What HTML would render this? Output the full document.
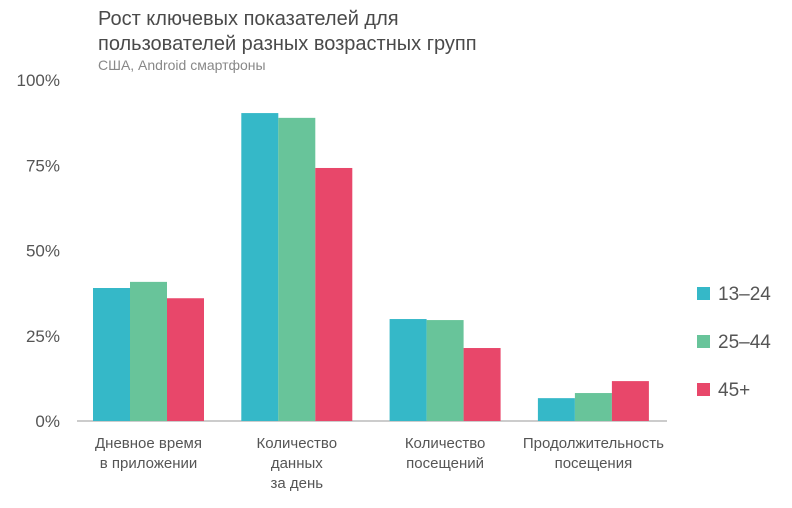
<!DOCTYPE html>
<html><head><meta charset="utf-8"><style>
body{margin:0;background:#fff;width:792px;height:503px;overflow:hidden;font-family:"Liberation Sans",sans-serif}
</style></head><body>
<svg width="792" height="503" id="c">
<text x="98" y="25" font-size="20" fill="#4a4a4a">Рост ключевых показателей для</text>
<text x="98" y="50" font-size="20" fill="#4a4a4a">пользователей разных возрастных групп</text>
<text x="98" y="70" font-size="14" fill="#888">США, Android смартфоны</text>
<g id="axes"></g><g id="bars"></g><g id="legend"></g>
</svg>
<script>
const categories=[["Дневное время","в приложении"],["Количество","данных","за день"],["Количество","посещений"],["Продолжительность","посещения"]];
const seriesNames=["13–24","25–44","45+"];
const s1=[39,40.8,36];
const s2=[90.3,88.9,74.2];
const s3=[29.9,29.6,21.4];
const s4=[6.7,8.2,11.7];
const yTicks=[0,25,50,75,100];
const tickLabels=["0%","25%","50%","75%","100%"];
const colors=["#35b8c8","#68c49a","#e8476a"];
const groups=[s1,s2,s3,s4];
const NS="http://www.w3.org/2000/svg";
const y0=421,y1=80,x0=77,x1=667;
const y=v=>y0-(v/100)*(y0-y1);
const gx=i=>93+i*148.3;
const bw=37;
function mk(t,a,p){const e=document.createElementNS(NS,t);for(const k in a)e.setAttribute(k,a[k]);p.appendChild(e);return e;}
const ax=document.getElementById('axes'),bg=document.getElementById('bars'),lg=document.getElementById('legend');
yTicks.forEach((v,i)=>{const t=mk('text',{x:60,y:y(v)+6,'font-size':17,fill:'#555','text-anchor':'end'},ax);t.textContent=tickLabels[i];

});
const al=mk('line',{x1:x0,x2:x1,y1:y0,y2:y0,stroke:'#bbb','stroke-width':1.5},ax);


groups.forEach((g,i)=>{g.forEach((v,j)=>{const r=mk('rect',{x:gx(i)+j*bw,y:y(v),width:bw,height:y0-y(v),fill:colors[j]},bg);

});
const cx=gx(i)+bw*1.5;categories[i].forEach((l,k)=>{const t=mk('text',{x:cx,y:448+k*20,'font-size':15,fill:'#555','text-anchor':'middle'},ax);t.textContent=l;

});});
seriesNames.forEach((n,j)=>{const yy=287+j*48;const r=mk('rect',{x:697,y:yy,width:13,height:13,fill:colors[j]},lg);


const t=mk('text',{x:718,y:yy+13,'font-size':19,fill:'#555'},lg);t.textContent=n;

});
</script>
</body></html>
